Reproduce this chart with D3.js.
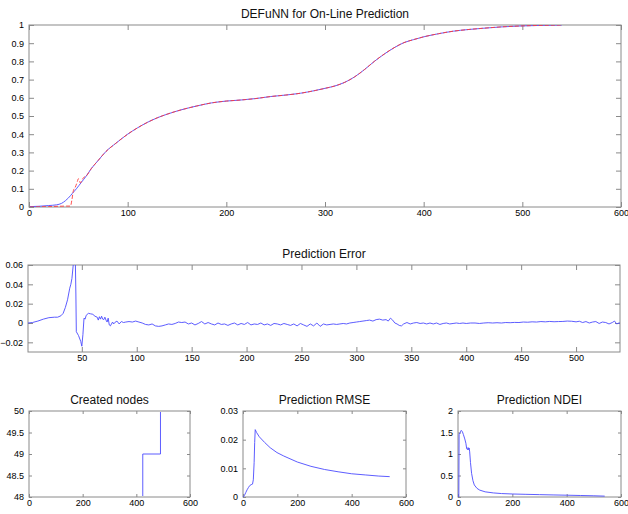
<!DOCTYPE html>
<html>
<head>
<meta charset="utf-8">
<script src="https://cdn.jsdelivr.net/npm/d3@7"></script>
<style>
  body { margin: 0; background: #fff; }
  svg { display: block; font-family: "Liberation Sans", Arial, sans-serif; }
</style>
</head>
<body>
<div id="chart"></div>
<script>
// target curve (blue) and on-line prediction (red dashed), [step, value]
const actualPts = [[1,0.002],[10,0.004],[20,0.008],[28,0.012],[33,0.02],[37,0.035],[40,0.05],[44,0.075],[48,0.1],[53,0.135],[58,0.17],[63,0.21],[70,0.255],[78,0.305],[88,0.35],[100,0.4],[110,0.435],[120,0.465],[130,0.49],[140,0.51],[155,0.535],[170,0.555],[185,0.572],[200,0.582],[215,0.588],[230,0.596],[245,0.607],[260,0.615],[275,0.625],[290,0.64],[300,0.652],[310,0.665],[320,0.685],[330,0.715],[340,0.755],[350,0.8],[360,0.84],[370,0.875],[380,0.903],[390,0.92],[400,0.935],[415,0.952],[430,0.966],[445,0.975],[460,0.982],[480,0.99],[500,0.995],[520,0.998],[540,1.0]];
const predictedPts = [[1,0],[10,0.001],[20,0.002],[30,0.004],[38,0.005],[42,0.005],[43.5,0.04],[45,0.09],[47,0.11],[49,0.14],[50,0.155],[51,0.15],[52,0.132],[55,0.16],[58,0.17],[63,0.21],[70,0.255],[78,0.305],[88,0.35],[100,0.4],[110,0.435],[120,0.465],[130,0.49],[140,0.51],[155,0.535],[170,0.555],[185,0.572],[200,0.582],[215,0.588],[230,0.596],[245,0.607],[260,0.615],[275,0.625],[290,0.64],[300,0.652],[310,0.665],[320,0.685],[330,0.715],[340,0.755],[350,0.8],[360,0.84],[370,0.875],[380,0.903],[390,0.92],[400,0.935],[415,0.952],[430,0.966],[445,0.975],[460,0.982],[480,0.99],[500,0.995],[520,0.998],[540,1.0]];

const errorPts = [[1,0],[5,0.0005],[10,0.002],[15,0.004],[20,0.0055],[25,0.006],[28,0.006],[31,0.0075],[33,0.01],[35,0.016],[37,0.024],[38,0.03],[39,0.036],[40,0.04],[41,0.046],[42,0.058],[43,0.068],[44,0.072],[44.6,0.03],[45,-0.009],[47,-0.013],[49,-0.019],[50,-0.024],[51,-0.012],[52,0.005],[53,0.004],[54,0.008],[56,0.010],[58,0.0095],[60,0.009],[62,0.007],[64,0.006],[65,0.003],[66,0.0065],[67,0.004],[68,0.007],[69,0.004],[70,0.0035],[71,0.006],[72,0.003],[73,0.001],[74,0.005],[75,-0.002],[76,-0.003],[77,-0.001],[78,0.001],[79,-0.001],[80,0.0005],[82,0.002],[84,-0.001],[86,0.0015],[88,0.0005],[90,0.001],[93,0.0015],[96,0.001],[99,0.002],[102,0.001],[105,0],[108,-0.0015],[111,-0.002],[114,-0.001],[117,-0.003],[120,-0.0035],[123,-0.003],[126,-0.002],[129,-0.001],[132,-0.0015],[135,-0.0005],[138,0.001],[141,0.0005],[144,0.001],[147,-0.001],[150,0],[153,-0.002],[156,-0.0005],[159,0.0015],[162,-0.001],[165,0.0005],[168,-0.001],[171,-0.002],[174,0],[177,-0.0015],[180,-0.001],[183,-0.0025],[186,-0.001],[189,0],[192,-0.002],[195,-0.0005],[198,-0.0015],[201,0.0005],[204,-0.002],[207,-0.001],[210,-0.0015],[213,0],[216,-0.002],[219,-0.001],[222,-0.0025],[225,-0.0005],[228,-0.001],[231,-0.002],[234,-0.0005],[237,-0.0015],[240,-0.0025],[243,-0.001],[246,-0.003],[249,-0.0005],[252,-0.002],[255,-0.0035],[258,-0.001],[261,-0.003],[264,0],[267,-0.0035],[270,-0.001],[273,-0.002],[276,-0.0015],[279,-0.001],[282,-0.0015],[285,-0.001],[288,-0.0005],[291,-0.001],[294,0],[297,0.0005],[300,0.001],[303,0.0015],[306,0.002],[309,0.0025],[312,0.003],[315,0.002],[318,0.0035],[321,0.004],[324,0.003],[327,0.0035],[329,0.002],[331,0.005],[333,0.003],[335,0],[337,-0.001],[339,-0.0025],[341,-0.003],[343,-0.001],[346,0.0005],[349,-0.001],[352,0],[355,0.0005],[358,-0.0005],[361,0],[364,-0.001],[367,0],[370,-0.001],[373,0],[376,-0.0015],[379,-0.0005],[382,0],[385,-0.001],[388,-0.0005],[391,0],[394,-0.0005],[397,0],[400,-0.0005],[404,0],[408,0],[412,-0.0005],[416,0],[420,0.0003],[424,0],[428,0.0003],[432,0],[436,0.0005],[440,0.0003],[444,0.0006],[448,0.0005],[452,0.001],[456,0.0008],[460,0.0012],[464,0.001],[468,0.0015],[472,0.0012],[476,0.0016],[480,0.0013],[484,0.0015],[488,0.0016],[492,0.002],[496,0.0018],[500,0.0012],[503,0.0018],[506,0.0005],[509,0.0015],[512,0],[515,0.001],[518,0.0015],[521,-0.0005],[524,0.001],[527,0.0005],[530,-0.001],[533,0.0005],[535,0.002],[537,-0.001],[539,0],[540,0]];

// step line: node count changes
const nodePts = [[1,48],[424,49],[490,50],[540,50]];

const rmsePts = [[1,0],[5,0.0005],[10,0.0015],[15,0.0025],[20,0.0033],[25,0.004],[30,0.0043],[35,0.0045],[38,0.006],[41,0.012],[43,0.019],[45,0.0235],[50,0.0225],[60,0.021],[80,0.019],[100,0.0172],[125,0.0155],[150,0.0143],[200,0.0122],[250,0.0107],[300,0.0096],[350,0.0088],[400,0.0081],[450,0.0077],[500,0.0073],[540,0.0071]];

const ndeiPts = [[1,0],[3,0],[4,1.45],[8,1.5],[12,1.55],[16,1.52],[20,1.45],[25,1.35],[29,1.25],[32,1.12],[35,1.1],[37,1.15],[39,1.1],[41,1.14],[43,1.05],[46,0.8],[50,0.55],[55,0.38],[60,0.28],[70,0.2],[80,0.16],[100,0.12],[130,0.095],[160,0.08],[200,0.07],[250,0.062],[300,0.055],[350,0.048],[400,0.042],[450,0.035],[500,0.028],[540,0.02]];

// tick labels
const topXTicks = [0, 100, 200, 300, 400, 500, 600];
const topYTicks = [0, 0.1, 0.2, 0.3, 0.4, 0.5, 0.6, 0.7, 0.8, 0.9, 1];
const errXTicks = [50, 100, 150, 200, 250, 300, 350, 400, 450, 500];
const errYTicks = [-0.02, 0, 0.02, 0.04, 0.06];
const smallXTicks = [0, 200, 400, 600];
const nodeYTicks = [48, 48.5, 49, 49.5, 50];
const rmseYTicks = [0, 0.01, 0.02, 0.03];
const ndeiYTicks = [0, 0.5, 1, 1.5, 2];

const azul = "#4b4bff", rojo = "#ff3a3a", gris = "#8a8a8a";

const $svg = d3.select("#chart").append("svg")
  .attr("width", 628)
  .attr("height", 514);

let clipId = 0;

// one MATLAB-style axes box
const panel = (o) => {
  const w = o.right - o.left, h = o.bottom - o.top;
  const x = d3.scaleLinear().domain(o.xDomain).range([0, w]);
  const y = d3.scaleLinear().domain(o.yDomain).range([h, 0]);
  const g = $svg.append("g").attr("transform", `translate(${o.left},${o.top})`);
  const fmt = d3.format("~g");
  const tl = o.tick;
  const ins = o.inset || 0;

  clipId++;
  g.append("clipPath").attr("id", "c" + clipId)
    .append("rect").attr("x", ins).attr("y", ins)
    .attr("width", w - 2 * ins).attr("height", h - 2 * ins);

  const estilo = sel => {
    sel.select(".domain").remove();
    sel.selectAll(".tick line").attr("stroke", gris);
    sel.selectAll(".tick text").attr("fill", "#000").style("font-size", "9px");
  };

  g.append("g").attr("transform", `translate(0,${h})`)
    .call(d3.axisBottom(x).tickValues(o.xTicks).tickSize(-tl).tickPadding(3).tickFormat(fmt))
    .call(estilo);
  g.append("g")
    .call(d3.axisTop(x).tickValues(o.xTicks).tickSize(-tl).tickFormat(""))
    .call(estilo);
  g.append("g")
    .call(d3.axisLeft(y).tickValues(o.yTicks).tickSize(-tl).tickPadding(5).tickFormat(fmt))
    .call(estilo);
  g.append("g").attr("transform", `translate(${w},0)`)
    .call(d3.axisRight(y).tickValues(o.yTicks).tickSize(-tl).tickFormat(""))
    .call(estilo);

  g.append("rect")
    .attr("width", w).attr("height", h)
    .attr("fill", "none")
    .attr("stroke", gris)
    .attr("stroke-width", 1);

  const plot = g.append("g").attr("clip-path", `url(#c${clipId})`);
  o.series.forEach(s => {
    const line = d3.line()
      .x(d => x(d[0]))
      .y(d => y(d[1]))
      .curve(s.curve || d3.curveLinear);
    plot.append("path")
      .datum(s.data)
      .attr("fill", "none")
      .attr("stroke", s.color)
      .attr("stroke-width", 0.9)
      .attr("stroke-dasharray", s.dash || null)
      .attr("d", line);
  });

  $svg.append("text")
    .attr("x", o.left + w / 2)
    .attr("y", o.top - 7)
    .attr("text-anchor", "middle")
    .attr("fill", "#111")
    .style("font-size", "12px")
    .text(o.title);
};

panel({
  title: "DEFuNN for On-Line Prediction",
  left: 29, right: 621, top: 25, bottom: 207,
  xDomain: [0, 600], yDomain: [0, 1],
  xTicks: topXTicks, yTicks: topYTicks, tick: 5,
  series: [
    { data: actualPts, color: azul, curve: d3.curveMonotoneX },
    { data: predictedPts, color: rojo, dash: "4,2", curve: d3.curveMonotoneX }
  ]
});

panel({
  title: "Prediction Error",
  left: 28, right: 620, top: 265, bottom: 352,
  xDomain: [1, 540], yDomain: [-0.03, 0.06],
  xTicks: errXTicks, yTicks: errYTicks, tick: 5,
  series: [{ data: errorPts, color: azul }]
});

// node count sits on the frame, keep it under the grey edge
panel({
  title: "Created nodes",
  left: 29, right: 190, top: 411, bottom: 497,
  xDomain: [0, 600], yDomain: [48, 50],
  xTicks: smallXTicks, yTicks: nodeYTicks, tick: 3, inset: 1,
  series: [{ data: nodePts, color: azul, curve: d3.curveStepAfter }]
});

panel({
  title: "Prediction RMSE",
  left: 243, right: 406, top: 411, bottom: 497,
  xDomain: [0, 600], yDomain: [0, 0.03],
  xTicks: smallXTicks, yTicks: rmseYTicks, tick: 3,
  series: [{ data: rmsePts, color: azul }]
});

panel({
  title: "Prediction NDEI",
  left: 458, right: 621, top: 411, bottom: 497,
  xDomain: [0, 600], yDomain: [0, 2],
  xTicks: smallXTicks, yTicks: ndeiYTicks, tick: 3,
  series: [{ data: ndeiPts, color: azul }]
});
</script>
</body>
</html>
